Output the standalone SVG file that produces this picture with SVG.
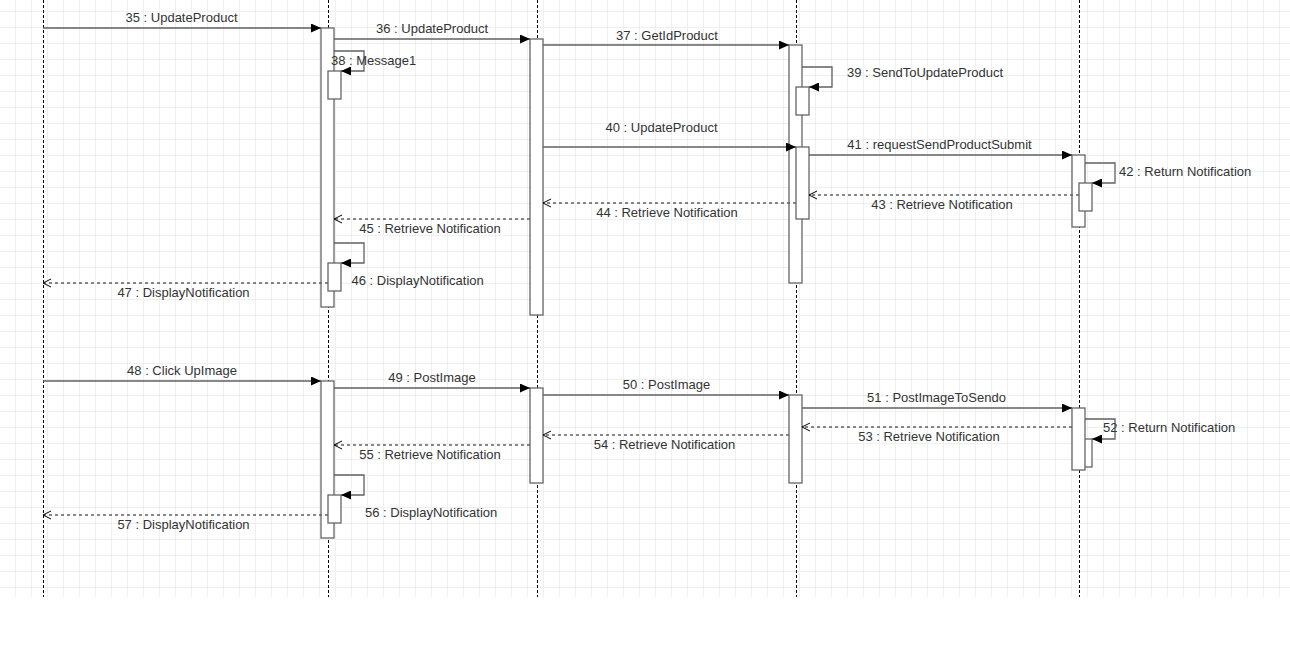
<svg xmlns="http://www.w3.org/2000/svg" width="1290" height="648" viewBox="0 0 1290 648">
<style>
.life{stroke:#000;stroke-width:1;stroke-dasharray:3 2;fill:none}
.act{fill:#fff;stroke:#666;stroke-width:1.3}
.msg{fill:none;stroke:#606060;stroke-width:1.3;marker-end:url(#fa)}
.ret{fill:none;stroke:#606060;stroke-width:1.3;stroke-dasharray:3 3;marker-end:url(#oa)}
text{font-family:"Liberation Sans",Arial,sans-serif;font-size:13px;fill:#333}
.m{text-anchor:middle}
</style>
<defs>
<pattern id="grid" width="16" height="16" patternUnits="userSpaceOnUse" x="15" y="11">
<path d="M0 0.5H16M0.5 0V16" stroke="#efefef" stroke-width="1" fill="none"/>
</pattern>
<marker id="fa" viewBox="0 0 10 9" refX="10" refY="4.5" markerWidth="10" markerHeight="9" markerUnits="userSpaceOnUse" orient="auto">
<path d="M0 0L10 4.5L0 9z" fill="#000"/>
</marker>
<marker id="oa" viewBox="-1 -1 10 10" refX="8" refY="4" markerWidth="10" markerHeight="10" markerUnits="userSpaceOnUse" orient="auto">
<path d="M0 0L8 4L0 8" fill="none" stroke="#000" stroke-width="1"/>
</marker>
</defs>
<rect x="0" y="0" width="1290" height="648" fill="#fff"/>
<rect x="0" y="0" width="1290" height="597" fill="url(#grid)"/>

<g id="lifeline-actor">
<line class="life" x1="43.5" y1="0" x2="43.5" y2="597"/>
</g>
<g id="lifeline-2">
<line class="life" x1="328.5" y1="0" x2="328.5" y2="597"/>
<rect class="act" x="321" y="28" width="13" height="279"/>
<rect class="act" x="328" y="71" width="13" height="28"/>
<rect class="act" x="328" y="263" width="13" height="28"/>
<rect class="act" x="321" y="381" width="13" height="157"/>
<rect class="act" x="328" y="495" width="13" height="28"/>
</g>
<g id="lifeline-3">
<line class="life" x1="537.5" y1="0" x2="537.5" y2="597"/>
<rect class="act" x="530" y="39" width="13" height="276"/>
<rect class="act" x="530" y="388" width="13" height="95"/>
</g>
<g id="lifeline-4">
<line class="life" x1="796.5" y1="0" x2="796.5" y2="597"/>
<rect class="act" x="789" y="45" width="13" height="238"/>
<rect class="act" x="796" y="87" width="13" height="28"/>
<rect class="act" x="796" y="147" width="13" height="72"/>
<rect class="act" x="789" y="395" width="13" height="88"/>
</g>
<g id="lifeline-5">
<line class="life" x1="1079.5" y1="0" x2="1079.5" y2="597"/>
<rect class="act" x="1072" y="155" width="13" height="72"/>
<rect class="act" x="1079" y="183" width="13" height="28"/>
<rect class="act" x="1079" y="439" width="13" height="28"/>
<rect class="act" x="1072" y="408" width="13" height="62"/>
</g>

<g id="connectors">
<path class="msg" d="M43 28H321"/>
<path class="msg" d="M334 39H530"/>
<path class="msg" d="M543 45H789"/>
<path class="msg" d="M334 51H364V71H341"/>
<path class="msg" d="M802 67H832V87H809"/>
<path class="msg" d="M543 147H796"/>
<path class="msg" d="M809 155H1072"/>
<path class="msg" d="M1085 163H1115V183H1092"/>
<path class="ret" d="M1079 195H809"/>
<path class="ret" d="M796 203H543"/>
<path class="ret" d="M530 219H334"/>
<path class="msg" d="M334 243H364V263H341"/>
<path class="ret" d="M328 283H43"/>
<path class="msg" d="M43 381H321"/>
<path class="msg" d="M334 388H530"/>
<path class="msg" d="M543 395H789"/>
<path class="msg" d="M802 408H1072"/>
<path class="msg" d="M1085 419H1115V439H1092"/>
<path class="ret" d="M1072 427H802"/>
<path class="ret" d="M789 435H543"/>
<path class="ret" d="M530 445H334"/>
<path class="msg" d="M334 475H364V495H341"/>
<path class="ret" d="M328 515H43"/>
</g>

<g id="labels">
<text class="m" x="181.5" y="22">35 : UpdateProduct</text>
<text class="m" x="432" y="33">36 : UpdateProduct</text>
<text class="m" x="667" y="40">37 : GetIdProduct</text>
<text x="331" y="64.5">38 : Message1</text>
<text x="847" y="77">39 : SendToUpdateProduct</text>
<text class="m" x="661.5" y="132">40 : UpdateProduct</text>
<text class="m" x="939.5" y="148.5">41 : requestSendProductSubmit</text>
<text x="1119" y="176">42 : Return Notification</text>
<text class="m" x="942" y="208.5">43 : Retrieve Notification</text>
<text class="m" x="667" y="216.5">44 : Retrieve Notification</text>
<text class="m" x="430" y="232.5">45 : Retrieve Notification</text>
<text x="351.5" y="285">46 : DisplayNotification</text>
<text class="m" x="183.5" y="297">47 : DisplayNotification</text>
<text class="m" x="182" y="375">48 : Click UpImage</text>
<text class="m" x="432" y="382">49 : PostImage</text>
<text class="m" x="666.5" y="389">50 : PostImage</text>
<text class="m" x="936.5" y="402">51 : PostImageToSendo</text>
<text x="1103" y="431.5">52 : Return Notification</text>
<text class="m" x="929" y="441">53 : Retrieve Notification</text>
<text class="m" x="664.5" y="449">54 : Retrieve Notification</text>
<text class="m" x="430" y="458.5">55 : Retrieve Notification</text>
<text x="365" y="517">56 : DisplayNotification</text>
<text class="m" x="183.5" y="529">57 : DisplayNotification</text>
</g>
</svg>
